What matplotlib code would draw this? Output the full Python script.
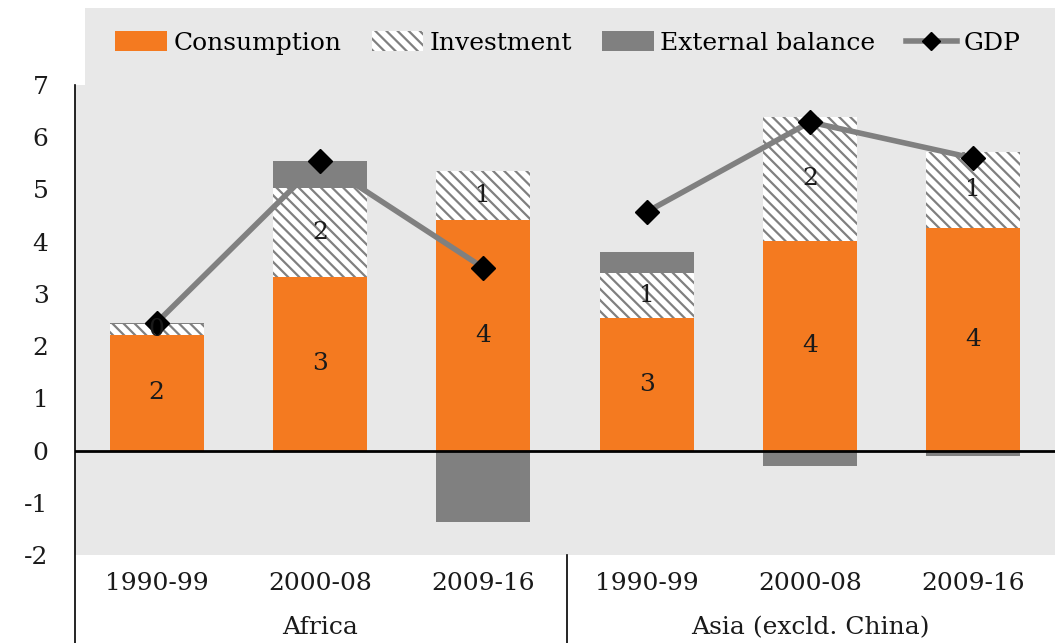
import matplotlib
matplotlib.use("Agg")
import matplotlib.pyplot as plt
import matplotlib.patches as mpatches
from matplotlib.lines import Line2D
import numpy as np

groups = ["Africa", "Asia (excld. China)"]
periods = ["1990-99", "2000-08", "2009-16"]
consumption = [2.22, 3.33, 4.42, 2.54, 4.02, 4.26]
investment = [0.21, 1.70, 0.93, 0.86, 2.37, 1.46]
external = [0.02, 0.51, -1.36, 0.40, -0.29, -0.11]
gdp = [2.45, 5.54, 3.50, 4.57, 6.29, 5.60]
yticks = [-2, -1, 0, 1, 2, 3, 4, 5, 6, 7]

ORANGE = "#f47a20"
GRAY = "#808080"
BG = "#e8e8e8"
TXT = "#1a1a1a"

plt.rcParams['font.family'] = ['DejaVu Serif']
plt.rcParams['hatch.color'] = GRAY
plt.rcParams['hatch.linewidth'] = 1.6

W, H = 1059, 643
fig = plt.figure(figsize=(W / 100, H / 100), dpi=100)
fig.patch.set_facecolor("white")

def fx(px):
    return px / W

def fy(py):
    return 1 - py / H

# legend background panel
fig.patches.append(mpatches.Rectangle((fx(85), fy(85)), (1055 - 85) / W, (85 - 8) / H,
                                      transform=fig.transFigure, facecolor=BG,
                                      edgecolor="none", zorder=0))

ax = fig.add_axes([fx(75), fy(555), (1055 - 75) / W, (555 - 85) / H])
ax.set_facecolor(BG)

n = len(consumption)
x = np.arange(n)
bw = 0.575
cons = np.array(consumption)
inv = np.array(investment)
ext = np.array(external)
HATCH = "\\\\\\"

ax.bar(x, cons, bw, color=ORANGE, zorder=2)
ax.bar(x, inv, bw, bottom=cons, color="white", hatch=HATCH, edgecolor=GRAY,
       linewidth=0, zorder=2)
ext_bottom = np.where(ext >= 0, cons + inv, 0)
ax.bar(x, ext, bw, bottom=ext_bottom, color=GRAY, zorder=2)

ax.axhline(0, color="black", lw=2, zorder=3)

# GDP lines, one per group
for g in range(2):
    idx = x[g * 3:(g + 1) * 3]
    ax.plot(idx, np.array(gdp)[idx], color=GRAY, lw=4, zorder=4,
            marker="D", markersize=12, markerfacecolor="black",
            markeredgecolor="black")

fs = 18
for i in range(n):
    ax.text(x[i], cons[i] / 2, f"{round(cons[i]):.0f}", ha="center", va="center",
            fontsize=fs, color=TXT, zorder=5)
    ax.text(x[i], cons[i] + inv[i] / 2, f"{round(inv[i]):.0f}", ha="center",
            va="center", fontsize=fs, color=TXT, zorder=5)

ax.set_xlim(-0.5, n - 0.5)
ax.set_ylim(-2, 7)
ax.set_yticks(yticks)
ax.set_yticklabels([str(t) for t in yticks], fontsize=fs, color=TXT)
ax.tick_params(axis="y", length=0, pad=19)
ax.set_xticks([])
for s in ["top", "right", "bottom", "left"]:
    ax.spines[s].set_visible(False)

fig.add_artist(Line2D([fx(75), fx(75)], [fy(85), fy(643)], color="black", lw=1.2))
fig.add_artist(Line2D([fx(567), fx(567)], [fy(555), fy(643)], color="black", lw=1.2))

trans = ax.get_xaxis_transform()
for i in range(n):
    ax.text(x[i], (555 - 583) / (555 - 85), periods[i % 3], transform=trans,
            ha="center", va="center", fontsize=fs, color=TXT, clip_on=False)
for g in range(2):
    ax.text(g * 3 + 1, (555 - 628) / (555 - 85), groups[g], transform=trans,
            ha="center", va="center", fontsize=fs, color=TXT, clip_on=False)

handles = [
    mpatches.Patch(facecolor=ORANGE, edgecolor="none", label="Consumption"),
    mpatches.Patch(facecolor="white", hatch=HATCH, edgecolor=GRAY, linewidth=0,
                   label="Investment"),
    mpatches.Patch(facecolor=GRAY, edgecolor="none", label="External balance"),
    Line2D([0], [0], color=GRAY, lw=4, marker="D", markersize=9,
           markerfacecolor="black", markeredgecolor="black", label="GDP"),
]
fig.legend(handles=handles, loc="center", bbox_to_anchor=(fx(568), fy(43)), ncol=4,
           frameon=False, fontsize=fs, handlelength=2.05, handleheight=0.8,
           handletextpad=0.28, columnspacing=1.2)

fig.savefig("out.png", dpi=100, facecolor="white")
